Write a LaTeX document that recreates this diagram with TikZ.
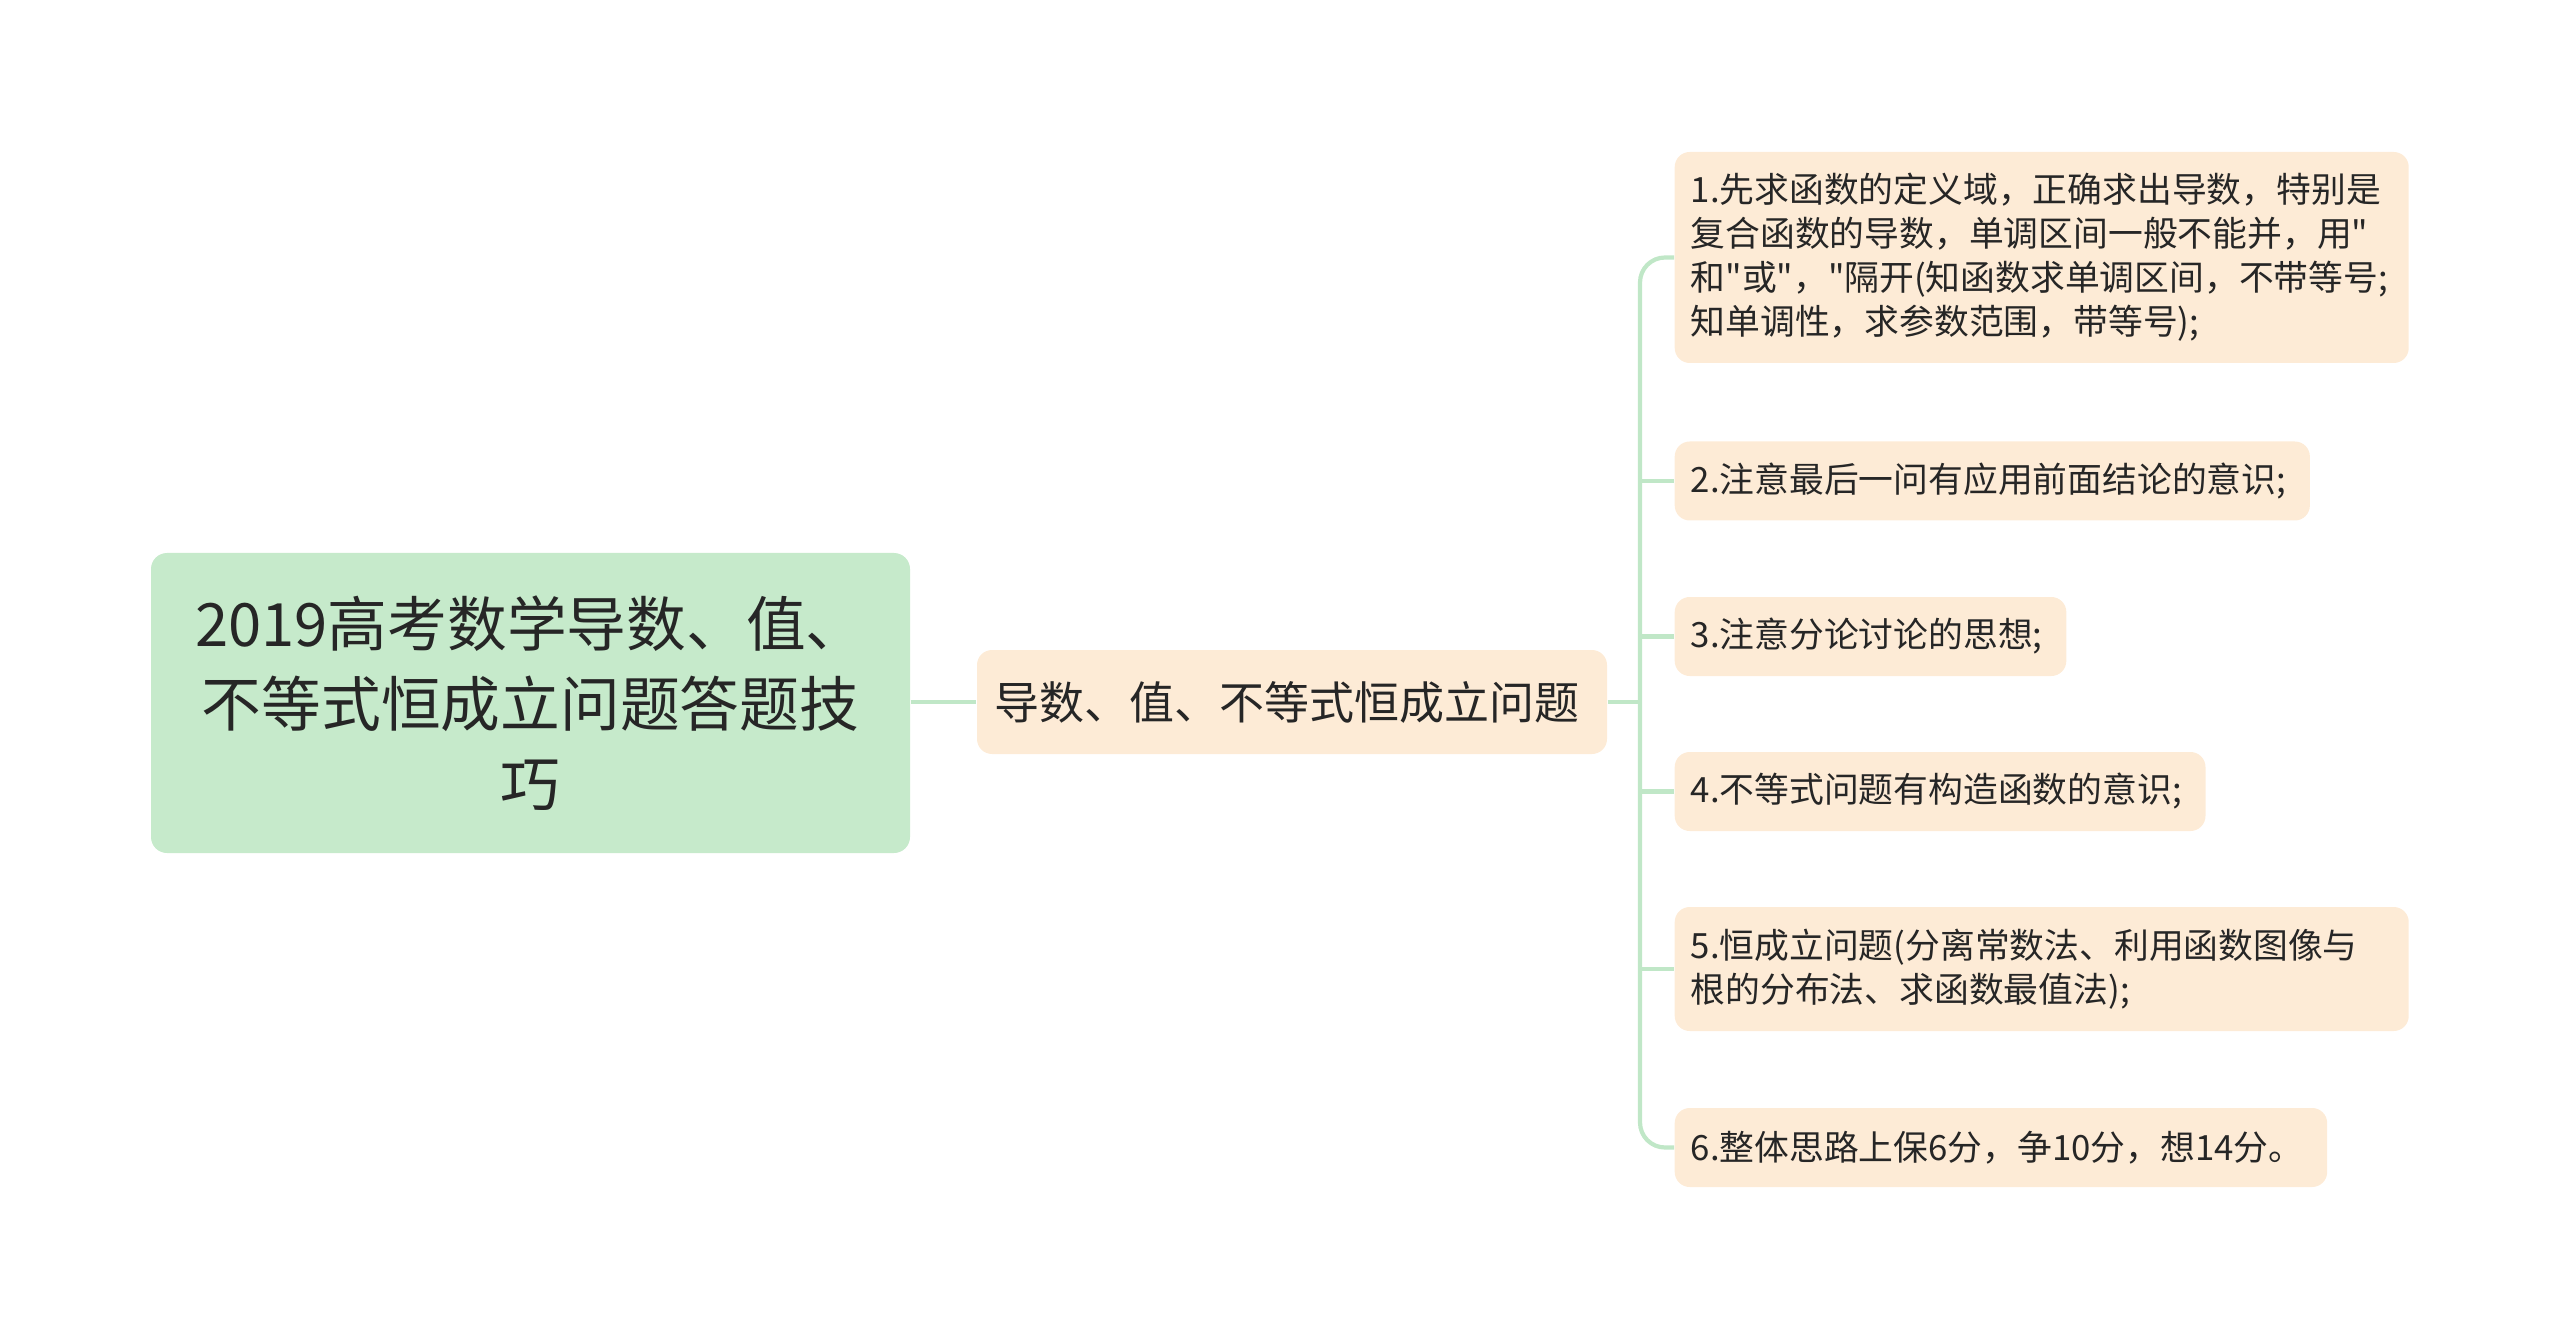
\documentclass[tikz,border=0pt]{standalone}
\usepackage{fontspec}
\usepackage{tikz}
\usetikzlibrary{positioning}
\newfontfamily\cjk{Noto Sans CJK SC}
\definecolor{rootgreen}{RGB}{198,234,203}
\definecolor{leafpeach}{RGB}{253,235,214}
\definecolor{linkgreen}{RGB}{192,231,199}
\definecolor{inkgray}{RGB}{38,38,38}

\begin{document}
\begin{tikzpicture}[
    rootbox/.style = { fill = rootgreen, rounded corners = .16cm, align = center, text = inkgray,
                       minimum width = 7.59cm, minimum height = 3cm,
                       font = {\cjk\fontsize{17pt}{22.8pt}\selectfont} },
    midbox/.style  = { fill = leafpeach, rounded corners = .15cm, align = center, text = inkgray,
                       minimum width = 6.3cm, minimum height = 1.04cm,
                       font = {\cjk\fontsize{12.8pt}{16pt}\selectfont} },
    leafbox/.style = { fill = leafpeach, rounded corners = .15cm, align = left, text = inkgray,
                       anchor = west, inner xsep = .16cm, minimum height = #1,
                       font = {\cjk\fontsize{9.9pt}{12.5pt}\selectfont} },
    leafbox/.default = .79cm,
    wide/.style = { text width = 7.02cm },
    link/.style = { draw = linkgreen, line width = 1.2pt }
  ]
    \useasboundingbox (0,0) rectangle (25.6,-13.37);

    \node [rootbox] (root) at (5.305,-7.03) { 2019高考数学导数、值、\\ 不等式恒成立问题答题技\\ 巧 };
    \node [midbox] (mid) at (12.92,-7.02) { 导数、值、不等式恒成立问题 };

    \node [leafbox = 2.11cm, wide] (l1) at (16.74,-2.575) { 1.先求函数的定义域，正确求出导数，特别是\\ 复合函数的导数，单调区间一般不能并，用"\\ 和"或"，"隔开(知函数求单调区间，不带等号;\\ 知单调性，求参数范围，带等号); };
    \node [leafbox] (l2) at (16.74,-4.81) { 2.注意最后一问有应用前面结论的意识; };
    \node [leafbox] (l3) at (16.74,-6.365) { 3.注意分论讨论的思想; };
    \node [leafbox] (l4) at (16.74,-7.915) { 4.不等式问题有构造函数的意识; };
    \node [leafbox = 1.24cm, wide] (l5) at (16.74,-9.69) { 5.恒成立问题(分离常数法、利用函数图像与\\ 根的分布法、求函数最值法); };
    \node [leafbox] (l6) at (16.74,-11.475) { 6.整体思路上保6分，争10分，想14分。 };

    \coordinate (fork) at (16.40,-7.02);

    % connectors
    \draw [link] (root.east |- mid.west) -- (mid.west);
    \draw [link] (mid.east) -- (fork);
    \draw [link, rounded corners = .25cm] (l1.west) -| (fork) |- (l6.west);
    \foreach \leaf in {l2,l3,l4,l5}
      \draw [link] (fork |- \leaf.west) -- (\leaf.west);
\end{tikzpicture}
\end{document}
